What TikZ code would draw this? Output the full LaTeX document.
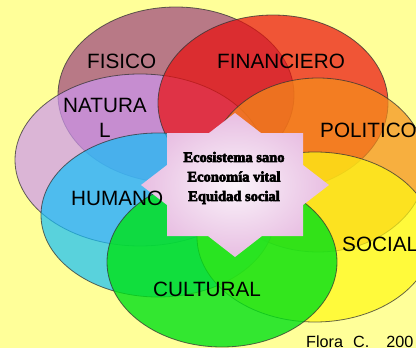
\documentclass[tikz,border=0pt]{standalone}
\usepackage{fontspec}
\setmainfont{Liberation Serif}
\newfontfamily\arialf{Liberation Sans}
\newfontfamily\heavyf{Liberation Serif}[BoldFeatures={FakeBold=4}]
\definecolor{bgyel}{RGB}{255,255,153}
\definecolor{cfis}{RGB}{154,65,126}
\definecolor{cfin}{RGB}{234,14,12}
\definecolor{cnat}{RGB}{205,150,240}
\definecolor{cpol}{RGB}{245,142,26}
\definecolor{chum}{RGB}{19,191,249}
\definecolor{csoc}{RGB}{255,248,20}
\definecolor{ccul}{RGB}{0,226,22}
\definecolor{starout}{RGB}{232,190,226}
\definecolor{starin}{RGB}{250,244,250}
\begin{document}
\begin{tikzpicture}[x=1pt,y=-1pt,
  blob/.style={fill opacity=0.7, draw=black!80, draw opacity=0.75, line width=0.8pt},
  lab/.style={font=\arialf\fontsize{20.7}{25}\selectfont, inner sep=0pt, anchor=base west},
  ]
\useasboundingbox (0,0) rectangle (416,348);
\clip (0,0) rectangle (416,348);
\fill[bgyel] (0,0) rectangle (416,348);
% ellipses
\path[blob, fill=cfis] (176,95) ellipse [x radius=118, y radius=88];
\path[blob, fill=cnat] (140,160) ellipse [x radius=125, y radius=86];
\path[blob, fill=cfin] (273,103) ellipse [x radius=115, y radius=88];
\path[blob, fill=cpol] (318,165) ellipse [x radius=108, y radius=87];
\path[blob, fill=chum] (158,215) ellipse [x radius=117, y radius=82];
\path[blob, fill=csoc] (315,237) ellipse [x radius=118, y radius=85];
\path[blob, fill=ccul, fill opacity=0.8] (222,262) ellipse [x radius=115, y radius=85];
% star
\shade[inner color=starin, outer color=starout]
  (235,113) -- (261,133) -- (303,133) -- (303,165) -- (329,185) -- (303,205) --
  (303,236) -- (262,236) -- (235,257) -- (208,236) -- (167,236) -- (167,205) --
  (141,185) -- (167,165) -- (167,133) -- (209,133) -- cycle;
\node[font=\heavyf\fontsize{14.5}{19.5}\selectfont\bfseries, align=center, inner sep=0pt]
  (center) at (234,178) {Ecosistema sano\\Economía vital\\Equidad social};
% labels
\node[lab] (fisico) at (87,68) {FISICO};
\node[lab] (financiero) at (217,68) {FINANCIERO};
\node[lab, anchor=base, align=center] (natural) at (105,137) {NATURA\\L};
\node[lab] (politico) at (320,137) {POLITICO};
\node[lab] (humano) at (71,205) {HUMANO};
\node[lab] (social) at (342,251) {SOCIAL};
\node[lab] (cultural) at (153,296) {CULTURAL};
\node[inner sep=0pt, anchor=base west, font=\arialf\fontsize{16.2}{18}\selectfont] (flora) at (306,347) {Flora\hspace{10pt}C.\hspace{17pt}200};
\end{tikzpicture}
\end{document}
